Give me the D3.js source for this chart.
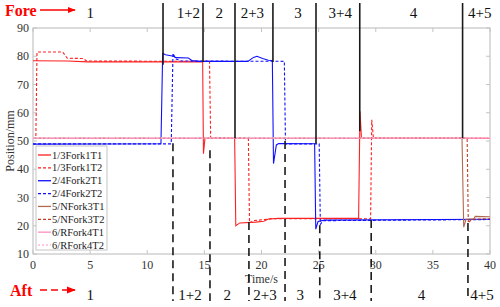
<!DOCTYPE html>
<html>
<head>
<meta charset="utf-8">
<script src="https://d3js.org/d3.v7.min.js"></script>
<style>
  body { margin: 0; background: #fff; }
  svg text { font-family: "Liberation Serif", "Times New Roman", serif; }
</style>
</head>
<body>
<svg id="chart"></svg>
<script>
// ---- data: [time s, position mm] ----
const fork1T1 = [[0,78.4],[3,78.3],[4.8,78.0],[14.85,78.0],[14.92,45.5],[15.05,51],[17.65,51],[17.75,20],[18.1,21],[19.5,21.3],[20.2,21.6],[20.6,22.4],[21.5,22.6],[28.5,22.6],[28.62,60.5],[28.75,51],[40,51]];
const fork1T2 = [[0,51],[0.25,51],[0.35,81.5],[2.6,81.5],[3.0,79.3],[4.4,79.2],[4.7,78.3],[15.45,78.2],[15.55,51],[18.85,51],[18.95,21],[19.3,21.8],[21,22.5],[29.55,22.5],[29.65,57.5],[29.8,51],[40,51]];
const fork2T1 = [[0,48.9],[11.2,49],[11.35,81],[11.6,80.5],[12.3,80],[12.5,79.5],[13.6,79.4],[13.9,78.5],[14.5,78.2],[18.8,78.2],[19.3,79.6],[19.6,80],[20.1,79.2],[20.6,78.6],[20.95,78.5],[21.05,42],[21.3,48.6],[21.5,49.1],[24.65,49],[24.75,18.8],[24.95,21.5],[25.5,22],[40,22.3]];
const fork2T2 = [[0,49],[12.1,49],[12.25,81],[12.5,79],[13,78.3],[22,78.2],[22.1,49],[25.05,49],[25.15,20.5],[25.4,21.8],[40,22.2]];
const fork3T1 = [[0,51],[37.55,51],[37.7,19.5],[37.9,22.3],[38.6,22.5],[38.7,23.3],[40,23.2]];
const fork3T2 = [[0,51],[38,51],[38.1,21],[38.4,22.3],[40,22.5]];
const fork4T1 = [[0,51],[40,51]];
const fork4T2 = [[0,51.1],[40,51.1]];

const seriesNames = ["1/3Fork1T1","1/3Fork1T2","2/4Fork2T1","2/4Fork2T2","5/NFork3T1","5/NFork3T2","6/RFork4T1","6/RFork4T2"];
const seriesData = [fork1T1, fork1T2, fork2T1, fork2T2, fork3T1, fork3T2, fork4T1, fork4T2];
const seriesColor = ["#ff2020","#ff2020","#1010ff","#1010ff","#b06a50","#c04020","#ff8fc0","#ffb8dc"];
const seriesDash = [null,"3,2",null,"3,2",null,"3,2",null,"2,2"];

// shift boundaries: solid = T1 (top), dashed = T2 (bottom); second value = where the line meets the data
const shiftT1 = [[11.38,77],[14.88,78],[17.68,51],[21.0,78],[24.77,49],[28.6,53.5],[37.6,51]];
const shiftT2 = [[12.25,49.2],[15.49,46.7],[18.9,21.3],[22.06,50],[25.1,20.2],[29.6,22],[38.07,21]];
const phaseTop = ["1","1+2","2","2+3","3","3+4","4","4+5"];
const phaseTopX = [5, 13.6, 16.3, 19.2, 23.2, 26.9, 33.3, 39.1];
const phaseBot = ["1","1+2","2","2+3","3","3+4","4","4+5"];
const phaseBotX = [5, 13.75, 17.0, 20.3, 23.4, 27.3, 34.0, 39.3];

const xTicks = [0,5,10,15,20,25,30,35,40];
const yTicks = [10,20,30,40,50,60,70,80,90];

const width = 500, height = 307;
const m = {left: 33, right: 10, top: 28, bottom: 53};

const svg = d3.select("#chart").attr("width", width).attr("height", height);

const x = d3.scaleLinear().domain([0, 40]).range([m.left, width - m.right]);
const y = d3.scaleLinear().domain([10, 90]).range([height - m.bottom, m.top]);

// axes box with inward ticks (MATLAB style)
const tickLen = 4;
const ax = svg.append("g");
ax.append("rect")
  .attr("x", x(0)).attr("y", y(90))
  .attr("width", x(40) - x(0)).attr("height", y(10) - y(90))
  .attr("fill", "none").attr("stroke", "#b8b8b8").attr("stroke-width", 1);

xTicks.forEach(function (t) {
  ax.append("line").attr("x1", x(t)).attr("x2", x(t)).attr("y1", y(10)).attr("y2", y(10) - tickLen).attr("stroke", "#c4c4c4");
  ax.append("line").attr("x1", x(t)).attr("x2", x(t)).attr("y1", y(90)).attr("y2", y(90) + tickLen).attr("stroke", "#c4c4c4");
  ax.append("text").attr("x", x(t)).attr("y", y(10) + 15)
    .attr("text-anchor", "middle").attr("font-size", 12).attr("fill", "#333").text(t);
});
yTicks.forEach(function (t) {
  ax.append("line").attr("x1", x(0)).attr("x2", x(0) + tickLen).attr("y1", y(t)).attr("y2", y(t)).attr("stroke", "#c4c4c4");
  ax.append("line").attr("x1", x(40)).attr("x2", x(40) - tickLen).attr("y1", y(t)).attr("y2", y(t)).attr("stroke", "#c4c4c4");
  ax.append("text").attr("x", x(0) - 4).attr("y", y(t) + 4)
    .attr("text-anchor", "end").attr("font-size", 12).attr("fill", "#333").text(t);
});

ax.append("text")
  .attr("transform", "translate(14," + y(50) + ") rotate(-90)")
  .attr("text-anchor", "middle").attr("font-size", 12).attr("fill", "#333").text("Position/mm");
ax.append("text")
  .attr("x", x(20)).attr("y", y(10) + 29)
  .attr("text-anchor", "middle").attr("font-size", 12).attr("fill", "#333").text("Time/s");

// data lines
const line = d3.line().x(d => x(d[0])).y(d => y(d[1]));
seriesData.forEach(function (d, i) {
  svg.append("path")
    .datum(d)
    .attr("d", line)
    .attr("fill", "none")
    .attr("stroke", seriesColor[i])
    .attr("stroke-width", 1.1)
    .attr("stroke-dasharray", seriesDash[i]);
});

// shift boundary lines
svg.selectAll(".shift1").data(shiftT1).enter().append("line")
  .attr("x1", d => x(d[0])).attr("x2", d => x(d[0]))
  .attr("y1", 3).attr("y2", d => y(d[1]))
  .attr("stroke", "#1a1a1a").attr("stroke-width", 1.6);
svg.selectAll(".shift2").data(shiftT2).enter().append("line")
  .attr("x1", d => x(d[0])).attr("x2", d => x(d[0]))
  .attr("y1", d => y(d[1])).attr("y2", 301)
  .attr("stroke", "#1a1a1a").attr("stroke-width", 1.6)
  .attr("stroke-dasharray", "8,5");

// phase labels
phaseTop.forEach(function (p, i) {
  svg.append("text").attr("x", x(phaseTopX[i])).attr("y", 18)
    .attr("text-anchor", "middle").attr("font-size", 15).attr("fill", "#111").text(p);
});
phaseBot.forEach(function (p, i) {
  svg.append("text").attr("x", x(phaseBotX[i])).attr("y", 300)
    .attr("text-anchor", "middle").attr("font-size", 15).attr("fill", "#111").text(p);
});

// Fore / Aft markers
const defs = svg.append("defs");
defs.append("marker").attr("id", "arr").attr("viewBox", "0 0 10 10")
  .attr("refX", 9).attr("refY", 5).attr("markerWidth", 6).attr("markerHeight", 6)
  .attr("orient", "auto").append("path").attr("d", "M0,1L10,5L0,9Z").attr("fill", "#ff0000");

svg.append("text").attr("x", 5).attr("y", 16).attr("font-size", 16).attr("font-weight", "bold")
  .attr("fill", "#ff0000").text("Fore");
svg.append("line").attr("x1", 40).attr("x2", 75).attr("y1", 10).attr("y2", 10)
  .attr("stroke", "#ff0000").attr("stroke-width", 1.3).attr("marker-end", "url(#arr)");
svg.append("text").attr("x", 10).attr("y", 296).attr("font-size", 16).attr("font-weight", "bold")
  .attr("fill", "#ff0000").text("Aft");
svg.append("line").attr("x1", 40).attr("x2", 75).attr("y1", 290).attr("y2", 290)
  .attr("stroke", "#ff0000").attr("stroke-width", 1.5).attr("stroke-dasharray", "7,4").attr("marker-end", "url(#arr)");

// legend
const lg = svg.append("g");
lg.append("rect").attr("x", 36).attr("y", 146).attr("width", 71).attr("height", 104)
  .attr("fill", "#fff").attr("stroke", "#c4c4c4");
seriesNames.forEach(function (n, i) {
  const ly = 155 + i * 12.86;
  lg.append("line").attr("x1", 38).attr("x2", 51).attr("y1", ly).attr("y2", ly)
    .attr("stroke", seriesColor[i]).attr("stroke-width", 1.3).attr("stroke-dasharray", seriesDash[i]);
  lg.append("text").attr("x", 52).attr("y", ly + 3.5).attr("font-size", 10.5).attr("fill", "#222").text(n);
});
</script>
</body>
</html>
